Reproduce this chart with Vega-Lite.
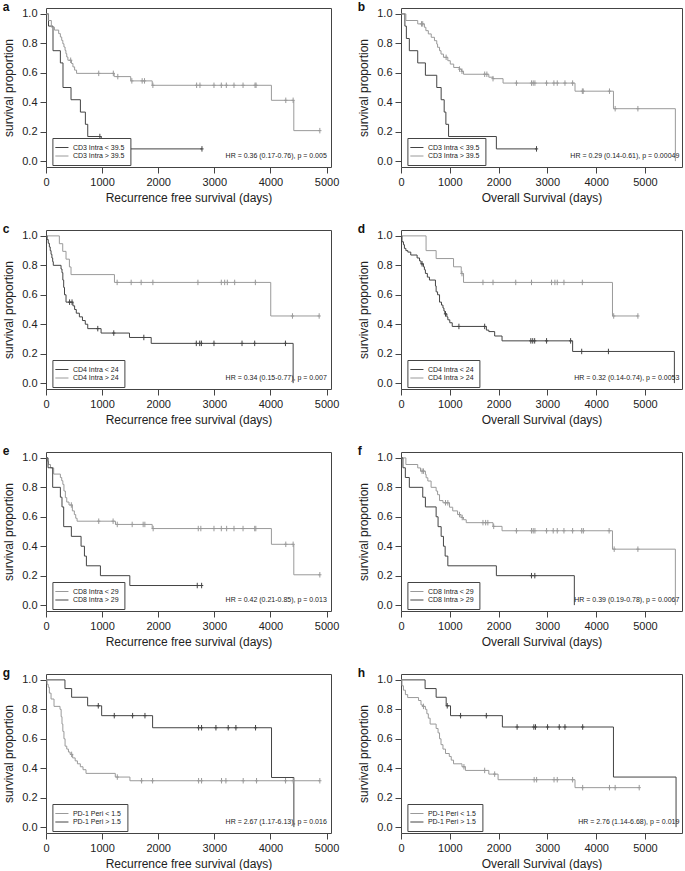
{
"$schema": "https://vega.github.io/schema/vega-lite/v6.json",
"padding": {"left": 2, "top": 0, "right": 2, "bottom": 0},
"bounds": "flush",
"columns": 2,
"spacing": {"row": 63, "column": 70},
"config": {
 "font": "Liberation Sans",
 "view": {"stroke": "#444", "strokeWidth": 1},
 "axis": {"domain": false, "grid": false, "ticks": true, "tickSize": 6, "tickColor": "#444", "labelFont": "Liberation Sans", "labelFontSize": 11, "labelColor": "#222", "labelPadding": 3, "titleFont": "Liberation Sans", "titleFontSize": 12, "titleFontWeight": "normal", "titleColor": "#222", "labelFlush": false, "labelOverlap": false},
 "axisX": {"titlePadding": 5},
 "axisY": {"titlePadding": 6},
 "title": {"anchor": "start", "frame": "bounds", "fontSize": 12, "fontWeight": "bold", "color": "#111", "offset": -6.6, "baseline": "top", "font": "Liberation Sans"},
 "legend": {"title": null, "orient": "none", "symbolType": "M-2,0H2", "symbolSize": 43, "symbolStrokeWidth": 1, "labelFontSize": 7, "labelFont": "Liberation Sans", "labelColor": "#222", "strokeColor": "#444", "fillColor": "white", "padding": 5.5, "rowPadding": 1.5, "labelOffset": 7}
},
"resolve": {"scale": {"color": "independent", "x": "independent", "y": "independent"}, "legend": {"color": "independent"}},
"datasets": {
"hr": [
 {"p":"a","hr":"HR = 0.36 (0.17-0.76), p = 0.005"},
 {"p":"b","hr":"HR = 0.29 (0.14-0.61), p = 0.00049"},
 {"p":"c","hr":"HR = 0.34 (0.15-0.77), p = 0.007"},
 {"p":"d","hr":"HR = 0.32 (0.14-0.74), p = 0.0053"},
 {"p":"e","hr":"HR = 0.42 (0.21-0.85), p = 0.013"},
 {"p":"f","hr":"HR = 0.39 (0.19-0.78), p = 0.0067"},
 {"p":"g","hr":"HR = 2.67 (1.17-6.13), p = 0.016"},
 {"p":"h","hr":"HR = 2.76 (1.14-6.68), p = 0.019"}
],
"km": [
{"p":"a","g":"CD3 Intra < 39.5","t":0,"s":1,"c":0},
{"p":"a","g":"CD3 Intra < 39.5","t":45,"s":0.917,"c":0},
{"p":"a","g":"CD3 Intra < 39.5","t":125,"s":0.75,"c":0},
{"p":"a","g":"CD3 Intra < 39.5","t":256,"s":0.667,"c":0},
{"p":"a","g":"CD3 Intra < 39.5","t":303,"s":0.5,"c":0},
{"p":"a","g":"CD3 Intra < 39.5","t":446,"s":0.417,"c":0},
{"p":"a","g":"CD3 Intra < 39.5","t":613,"s":0.333,"c":0},
{"p":"a","g":"CD3 Intra < 39.5","t":702,"s":0.25,"c":0},
{"p":"a","g":"CD3 Intra < 39.5","t":744,"s":0.167,"c":0},
{"p":"a","g":"CD3 Intra < 39.5","t":960,"s":0.167,"c":1},
{"p":"a","g":"CD3 Intra < 39.5","t":985,"s":0.083,"c":0},
{"p":"a","g":"CD3 Intra < 39.5","t":2780,"s":0.083,"c":1},
{"p":"a","g":"CD3 Intra > 39.5","t":0,"s":1,"c":0},
{"p":"a","g":"CD3 Intra > 39.5","t":40,"s":0.955,"c":0},
{"p":"a","g":"CD3 Intra > 39.5","t":95,"s":0.91,"c":0},
{"p":"a","g":"CD3 Intra > 39.5","t":150,"s":0.89,"c":0},
{"p":"a","g":"CD3 Intra > 39.5","t":226,"s":0.866,"c":0},
{"p":"a","g":"CD3 Intra > 39.5","t":256,"s":0.843,"c":0},
{"p":"a","g":"CD3 Intra > 39.5","t":280,"s":0.82,"c":0},
{"p":"a","g":"CD3 Intra > 39.5","t":300,"s":0.797,"c":0},
{"p":"a","g":"CD3 Intra > 39.5","t":320,"s":0.775,"c":0},
{"p":"a","g":"CD3 Intra > 39.5","t":340,"s":0.752,"c":0},
{"p":"a","g":"CD3 Intra > 39.5","t":355,"s":0.73,"c":0},
{"p":"a","g":"CD3 Intra > 39.5","t":370,"s":0.707,"c":0},
{"p":"a","g":"CD3 Intra > 39.5","t":390,"s":0.685,"c":0},
{"p":"a","g":"CD3 Intra > 39.5","t":440,"s":0.685,"c":1},
{"p":"a","g":"CD3 Intra > 39.5","t":455,"s":0.663,"c":0},
{"p":"a","g":"CD3 Intra > 39.5","t":480,"s":0.64,"c":0},
{"p":"a","g":"CD3 Intra > 39.5","t":510,"s":0.618,"c":0},
{"p":"a","g":"CD3 Intra > 39.5","t":545,"s":0.596,"c":0},
{"p":"a","g":"CD3 Intra > 39.5","t":940,"s":0.596,"c":1},
{"p":"a","g":"CD3 Intra > 39.5","t":1200,"s":0.596,"c":1},
{"p":"a","g":"CD3 Intra > 39.5","t":1215,"s":0.574,"c":0},
{"p":"a","g":"CD3 Intra > 39.5","t":1280,"s":0.574,"c":1},
{"p":"a","g":"CD3 Intra > 39.5","t":1510,"s":0.545,"c":0},
{"p":"a","g":"CD3 Intra > 39.5","t":1530,"s":0.545,"c":1},
{"p":"a","g":"CD3 Intra > 39.5","t":1714,"s":0.545,"c":1},
{"p":"a","g":"CD3 Intra > 39.5","t":1756,"s":0.545,"c":1},
{"p":"a","g":"CD3 Intra > 39.5","t":1893,"s":0.515,"c":0},
{"p":"a","g":"CD3 Intra > 39.5","t":1905,"s":0.515,"c":1},
{"p":"a","g":"CD3 Intra > 39.5","t":2685,"s":0.515,"c":1},
{"p":"a","g":"CD3 Intra > 39.5","t":2744,"s":0.515,"c":1},
{"p":"a","g":"CD3 Intra > 39.5","t":2994,"s":0.515,"c":1},
{"p":"a","g":"CD3 Intra > 39.5","t":3125,"s":0.515,"c":1},
{"p":"a","g":"CD3 Intra > 39.5","t":3214,"s":0.515,"c":1},
{"p":"a","g":"CD3 Intra > 39.5","t":3351,"s":0.515,"c":1},
{"p":"a","g":"CD3 Intra > 39.5","t":3512,"s":0.515,"c":1},
{"p":"a","g":"CD3 Intra > 39.5","t":3726,"s":0.515,"c":1},
{"p":"a","g":"CD3 Intra > 39.5","t":3744,"s":0.515,"c":1},
{"p":"a","g":"CD3 Intra > 39.5","t":4018,"s":0.413,"c":0},
{"p":"a","g":"CD3 Intra > 39.5","t":4274,"s":0.413,"c":1},
{"p":"a","g":"CD3 Intra > 39.5","t":4405,"s":0.413,"c":1},
{"p":"a","g":"CD3 Intra > 39.5","t":4417,"s":0.207,"c":0},
{"p":"a","g":"CD3 Intra > 39.5","t":4881,"s":0.207,"c":1},

{"p":"b","g":"CD3 Intra < 39.5","t":0,"s":1,"c":0},
{"p":"b","g":"CD3 Intra < 39.5","t":80,"s":0.917,"c":0},
{"p":"b","g":"CD3 Intra < 39.5","t":110,"s":0.833,"c":0},
{"p":"b","g":"CD3 Intra < 39.5","t":171,"s":0.75,"c":0},
{"p":"b","g":"CD3 Intra < 39.5","t":343,"s":0.667,"c":0},
{"p":"b","g":"CD3 Intra < 39.5","t":500,"s":0.583,"c":0},
{"p":"b","g":"CD3 Intra < 39.5","t":733,"s":0.5,"c":0},
{"p":"b","g":"CD3 Intra < 39.5","t":823,"s":0.417,"c":0},
{"p":"b","g":"CD3 Intra < 39.5","t":885,"s":0.333,"c":0},
{"p":"b","g":"CD3 Intra < 39.5","t":920,"s":0.25,"c":0},
{"p":"b","g":"CD3 Intra < 39.5","t":975,"s":0.167,"c":0},
{"p":"b","g":"CD3 Intra < 39.5","t":1955,"s":0.083,"c":0},
{"p":"b","g":"CD3 Intra < 39.5","t":2778,"s":0.083,"c":1},
{"p":"b","g":"CD3 Intra > 39.5","t":0,"s":1,"c":0},
{"p":"b","g":"CD3 Intra > 39.5","t":100,"s":0.955,"c":0},
{"p":"b","g":"CD3 Intra > 39.5","t":343,"s":0.932,"c":0},
{"p":"b","g":"CD3 Intra > 39.5","t":420,"s":0.932,"c":1},
{"p":"b","g":"CD3 Intra > 39.5","t":445,"s":0.932,"c":1},
{"p":"b","g":"CD3 Intra > 39.5","t":480,"s":0.909,"c":0},
{"p":"b","g":"CD3 Intra > 39.5","t":510,"s":0.886,"c":0},
{"p":"b","g":"CD3 Intra > 39.5","t":560,"s":0.864,"c":0},
{"p":"b","g":"CD3 Intra > 39.5","t":620,"s":0.841,"c":0},
{"p":"b","g":"CD3 Intra > 39.5","t":686,"s":0.818,"c":0},
{"p":"b","g":"CD3 Intra > 39.5","t":733,"s":0.795,"c":0},
{"p":"b","g":"CD3 Intra > 39.5","t":750,"s":0.773,"c":0},
{"p":"b","g":"CD3 Intra > 39.5","t":790,"s":0.75,"c":0},
{"p":"b","g":"CD3 Intra > 39.5","t":820,"s":0.727,"c":0},
{"p":"b","g":"CD3 Intra > 39.5","t":870,"s":0.705,"c":0},
{"p":"b","g":"CD3 Intra > 39.5","t":925,"s":0.705,"c":1},
{"p":"b","g":"CD3 Intra > 39.5","t":960,"s":0.682,"c":0},
{"p":"b","g":"CD3 Intra > 39.5","t":1010,"s":0.659,"c":0},
{"p":"b","g":"CD3 Intra > 39.5","t":1080,"s":0.636,"c":0},
{"p":"b","g":"CD3 Intra > 39.5","t":1200,"s":0.625,"c":1},
{"p":"b","g":"CD3 Intra > 39.5","t":1240,"s":0.61,"c":0},
{"p":"b","g":"CD3 Intra > 39.5","t":1250,"s":0.61,"c":1},
{"p":"b","g":"CD3 Intra > 39.5","t":1282,"s":0.59,"c":0},
{"p":"b","g":"CD3 Intra > 39.5","t":1715,"s":0.59,"c":1},
{"p":"b","g":"CD3 Intra > 39.5","t":1760,"s":0.59,"c":1},
{"p":"b","g":"CD3 Intra > 39.5","t":1800,"s":0.57,"c":0},
{"p":"b","g":"CD3 Intra > 39.5","t":1886,"s":0.56,"c":1},
{"p":"b","g":"CD3 Intra > 39.5","t":2092,"s":0.53,"c":0},
{"p":"b","g":"CD3 Intra > 39.5","t":2366,"s":0.53,"c":1},
{"p":"b","g":"CD3 Intra > 39.5","t":2675,"s":0.53,"c":1},
{"p":"b","g":"CD3 Intra > 39.5","t":2710,"s":0.53,"c":1},
{"p":"b","g":"CD3 Intra > 39.5","t":2745,"s":0.53,"c":1},
{"p":"b","g":"CD3 Intra > 39.5","t":2984,"s":0.53,"c":1},
{"p":"b","g":"CD3 Intra > 39.5","t":3134,"s":0.53,"c":1},
{"p":"b","g":"CD3 Intra > 39.5","t":3203,"s":0.53,"c":1},
{"p":"b","g":"CD3 Intra > 39.5","t":3361,"s":0.53,"c":1},
{"p":"b","g":"CD3 Intra > 39.5","t":3518,"s":0.53,"c":1},
{"p":"b","g":"CD3 Intra > 39.5","t":3567,"s":0.475,"c":0},
{"p":"b","g":"CD3 Intra > 39.5","t":3717,"s":0.475,"c":1},
{"p":"b","g":"CD3 Intra > 39.5","t":3735,"s":0.475,"c":1},
{"p":"b","g":"CD3 Intra > 39.5","t":4273,"s":0.475,"c":1},
{"p":"b","g":"CD3 Intra > 39.5","t":4355,"s":0.356,"c":0},
{"p":"b","g":"CD3 Intra > 39.5","t":4390,"s":0.356,"c":1},
{"p":"b","g":"CD3 Intra > 39.5","t":4856,"s":0.356,"c":1},
{"p":"b","g":"CD3 Intra > 39.5","t":5624,"s":0,"c":0},

{"p":"c","g":"CD4 Intra > 24","t":0,"s":1,"c":0},
{"p":"c","g":"CD4 Intra > 24","t":238,"s":0.947,"c":0},
{"p":"c","g":"CD4 Intra > 24","t":298,"s":0.895,"c":0},
{"p":"c","g":"CD4 Intra > 24","t":357,"s":0.842,"c":0},
{"p":"c","g":"CD4 Intra > 24","t":417,"s":0.789,"c":0},
{"p":"c","g":"CD4 Intra > 24","t":446,"s":0.737,"c":0},
{"p":"c","g":"CD4 Intra > 24","t":1220,"s":0.684,"c":0},
{"p":"c","g":"CD4 Intra > 24","t":1268,"s":0.684,"c":1},
{"p":"c","g":"CD4 Intra > 24","t":1518,"s":0.684,"c":1},
{"p":"c","g":"CD4 Intra > 24","t":1696,"s":0.684,"c":1},
{"p":"c","g":"CD4 Intra > 24","t":1905,"s":0.684,"c":1},
{"p":"c","g":"CD4 Intra > 24","t":2708,"s":0.684,"c":1},
{"p":"c","g":"CD4 Intra > 24","t":3125,"s":0.684,"c":1},
{"p":"c","g":"CD4 Intra > 24","t":3185,"s":0.684,"c":1},
{"p":"c","g":"CD4 Intra > 24","t":3232,"s":0.684,"c":1},
{"p":"c","g":"CD4 Intra > 24","t":3363,"s":0.684,"c":1},
{"p":"c","g":"CD4 Intra > 24","t":3732,"s":0.684,"c":1},
{"p":"c","g":"CD4 Intra > 24","t":4006,"s":0.456,"c":0},
{"p":"c","g":"CD4 Intra > 24","t":4393,"s":0.456,"c":1},
{"p":"c","g":"CD4 Intra > 24","t":4869,"s":0.456,"c":1},
{"p":"c","g":"CD4 Intra < 24","t":0,"s":1,"c":0},
{"p":"c","g":"CD4 Intra < 24","t":20,"s":0.975,"c":0},
{"p":"c","g":"CD4 Intra < 24","t":40,"s":0.95,"c":0},
{"p":"c","g":"CD4 Intra < 24","t":60,"s":0.925,"c":0},
{"p":"c","g":"CD4 Intra < 24","t":75,"s":0.9,"c":0},
{"p":"c","g":"CD4 Intra < 24","t":90,"s":0.875,"c":0},
{"p":"c","g":"CD4 Intra < 24","t":105,"s":0.85,"c":0},
{"p":"c","g":"CD4 Intra < 24","t":119,"s":0.825,"c":0},
{"p":"c","g":"CD4 Intra < 24","t":130,"s":0.8,"c":0},
{"p":"c","g":"CD4 Intra < 24","t":268,"s":0.775,"c":0},
{"p":"c","g":"CD4 Intra < 24","t":285,"s":0.75,"c":0},
{"p":"c","g":"CD4 Intra < 24","t":300,"s":0.7,"c":0},
{"p":"c","g":"CD4 Intra < 24","t":315,"s":0.65,"c":0},
{"p":"c","g":"CD4 Intra < 24","t":330,"s":0.6,"c":0},
{"p":"c","g":"CD4 Intra < 24","t":357,"s":0.55,"c":0},
{"p":"c","g":"CD4 Intra < 24","t":420,"s":0.55,"c":1},
{"p":"c","g":"CD4 Intra < 24","t":464,"s":0.55,"c":1},
{"p":"c","g":"CD4 Intra < 24","t":480,"s":0.525,"c":0},
{"p":"c","g":"CD4 Intra < 24","t":510,"s":0.5,"c":0},
{"p":"c","g":"CD4 Intra < 24","t":540,"s":0.475,"c":0},
{"p":"c","g":"CD4 Intra < 24","t":595,"s":0.45,"c":0},
{"p":"c","g":"CD4 Intra < 24","t":650,"s":0.425,"c":0},
{"p":"c","g":"CD4 Intra < 24","t":700,"s":0.4,"c":0},
{"p":"c","g":"CD4 Intra < 24","t":744,"s":0.37,"c":0},
{"p":"c","g":"CD4 Intra < 24","t":923,"s":0.37,"c":1},
{"p":"c","g":"CD4 Intra < 24","t":982,"s":0.34,"c":0},
{"p":"c","g":"CD4 Intra < 24","t":1208,"s":0.34,"c":1},
{"p":"c","g":"CD4 Intra < 24","t":1488,"s":0.31,"c":0},
{"p":"c","g":"CD4 Intra < 24","t":1744,"s":0.31,"c":1},
{"p":"c","g":"CD4 Intra < 24","t":1875,"s":0.27,"c":0},
{"p":"c","g":"CD4 Intra < 24","t":2679,"s":0.27,"c":1},
{"p":"c","g":"CD4 Intra < 24","t":2740,"s":0.27,"c":1},
{"p":"c","g":"CD4 Intra < 24","t":2770,"s":0.27,"c":1},
{"p":"c","g":"CD4 Intra < 24","t":2994,"s":0.27,"c":1},
{"p":"c","g":"CD4 Intra < 24","t":3494,"s":0.27,"c":1},
{"p":"c","g":"CD4 Intra < 24","t":3720,"s":0.27,"c":1},
{"p":"c","g":"CD4 Intra < 24","t":4268,"s":0.27,"c":1},
{"p":"c","g":"CD4 Intra < 24","t":4405,"s":0,"c":0},

{"p":"d","g":"CD4 Intra > 24","t":0,"s":1,"c":0},
{"p":"d","g":"CD4 Intra > 24","t":514,"s":0.9,"c":0},
{"p":"d","g":"CD4 Intra > 24","t":720,"s":0.846,"c":0},
{"p":"d","g":"CD4 Intra > 24","t":1077,"s":0.79,"c":0},
{"p":"d","g":"CD4 Intra > 24","t":1235,"s":0.744,"c":0},
{"p":"d","g":"CD4 Intra > 24","t":1250,"s":0.744,"c":1},
{"p":"d","g":"CD4 Intra > 24","t":1282,"s":0.684,"c":0},
{"p":"d","g":"CD4 Intra > 24","t":1680,"s":0.684,"c":1},
{"p":"d","g":"CD4 Intra > 24","t":1886,"s":0.684,"c":1},
{"p":"d","g":"CD4 Intra > 24","t":2352,"s":0.684,"c":1},
{"p":"d","g":"CD4 Intra > 24","t":2675,"s":0.684,"c":1},
{"p":"d","g":"CD4 Intra > 24","t":3086,"s":0.684,"c":1},
{"p":"d","g":"CD4 Intra > 24","t":3155,"s":0.684,"c":1},
{"p":"d","g":"CD4 Intra > 24","t":3203,"s":0.684,"c":1},
{"p":"d","g":"CD4 Intra > 24","t":3340,"s":0.684,"c":1},
{"p":"d","g":"CD4 Intra > 24","t":3717,"s":0.684,"c":1},
{"p":"d","g":"CD4 Intra > 24","t":4335,"s":0.456,"c":0},
{"p":"d","g":"CD4 Intra > 24","t":4360,"s":0.456,"c":1},
{"p":"d","g":"CD4 Intra > 24","t":4856,"s":0.456,"c":1},
{"p":"d","g":"CD4 Intra < 24","t":0,"s":1,"c":0},
{"p":"d","g":"CD4 Intra < 24","t":20,"s":0.96,"c":0},
{"p":"d","g":"CD4 Intra < 24","t":50,"s":0.94,"c":0},
{"p":"d","g":"CD4 Intra < 24","t":70,"s":0.915,"c":0},
{"p":"d","g":"CD4 Intra < 24","t":100,"s":0.9,"c":0},
{"p":"d","g":"CD4 Intra < 24","t":140,"s":0.89,"c":0},
{"p":"d","g":"CD4 Intra < 24","t":200,"s":0.87,"c":0},
{"p":"d","g":"CD4 Intra < 24","t":330,"s":0.85,"c":0},
{"p":"d","g":"CD4 Intra < 24","t":380,"s":0.83,"c":0},
{"p":"d","g":"CD4 Intra < 24","t":410,"s":0.81,"c":0},
{"p":"d","g":"CD4 Intra < 24","t":432,"s":0.81,"c":1},
{"p":"d","g":"CD4 Intra < 24","t":460,"s":0.79,"c":0},
{"p":"d","g":"CD4 Intra < 24","t":480,"s":0.77,"c":0},
{"p":"d","g":"CD4 Intra < 24","t":500,"s":0.745,"c":0},
{"p":"d","g":"CD4 Intra < 24","t":540,"s":0.72,"c":0},
{"p":"d","g":"CD4 Intra < 24","t":583,"s":0.7,"c":0},
{"p":"d","g":"CD4 Intra < 24","t":706,"s":0.66,"c":0},
{"p":"d","g":"CD4 Intra < 24","t":720,"s":0.62,"c":0},
{"p":"d","g":"CD4 Intra < 24","t":750,"s":0.6,"c":0},
{"p":"d","g":"CD4 Intra < 24","t":790,"s":0.55,"c":0},
{"p":"d","g":"CD4 Intra < 24","t":830,"s":0.53,"c":0},
{"p":"d","g":"CD4 Intra < 24","t":860,"s":0.51,"c":0},
{"p":"d","g":"CD4 Intra < 24","t":880,"s":0.49,"c":0},
{"p":"d","g":"CD4 Intra < 24","t":900,"s":0.47,"c":0},
{"p":"d","g":"CD4 Intra < 24","t":912,"s":0.47,"c":1},
{"p":"d","g":"CD4 Intra < 24","t":940,"s":0.45,"c":0},
{"p":"d","g":"CD4 Intra < 24","t":960,"s":0.43,"c":0},
{"p":"d","g":"CD4 Intra < 24","t":1000,"s":0.41,"c":0},
{"p":"d","g":"CD4 Intra < 24","t":1050,"s":0.385,"c":0},
{"p":"d","g":"CD4 Intra < 24","t":1187,"s":0.385,"c":1},
{"p":"d","g":"CD4 Intra < 24","t":1715,"s":0.385,"c":1},
{"p":"d","g":"CD4 Intra < 24","t":1750,"s":0.36,"c":0},
{"p":"d","g":"CD4 Intra < 24","t":1800,"s":0.35,"c":0},
{"p":"d","g":"CD4 Intra < 24","t":1920,"s":0.32,"c":0},
{"p":"d","g":"CD4 Intra < 24","t":2071,"s":0.287,"c":0},
{"p":"d","g":"CD4 Intra < 24","t":2661,"s":0.287,"c":1},
{"p":"d","g":"CD4 Intra < 24","t":2700,"s":0.287,"c":1},
{"p":"d","g":"CD4 Intra < 24","t":2740,"s":0.287,"c":1},
{"p":"d","g":"CD4 Intra < 24","t":2984,"s":0.287,"c":1},
{"p":"d","g":"CD4 Intra < 24","t":3477,"s":0.287,"c":1},
{"p":"d","g":"CD4 Intra < 24","t":3518,"s":0.215,"c":0},
{"p":"d","g":"CD4 Intra < 24","t":3704,"s":0.215,"c":1},
{"p":"d","g":"CD4 Intra < 24","t":4252,"s":0.215,"c":1},
{"p":"d","g":"CD4 Intra < 24","t":5604,"s":0,"c":0},

{"p":"e","g":"CD8 Intra < 29","t":0,"s":1,"c":0},
{"p":"e","g":"CD8 Intra < 29","t":30,"s":0.977,"c":0},
{"p":"e","g":"CD8 Intra < 29","t":45,"s":0.955,"c":0},
{"p":"e","g":"CD8 Intra < 29","t":80,"s":0.932,"c":0},
{"p":"e","g":"CD8 Intra < 29","t":137,"s":0.89,"c":0},
{"p":"e","g":"CD8 Intra < 29","t":256,"s":0.867,"c":0},
{"p":"e","g":"CD8 Intra < 29","t":280,"s":0.845,"c":0},
{"p":"e","g":"CD8 Intra < 29","t":300,"s":0.82,"c":0},
{"p":"e","g":"CD8 Intra < 29","t":320,"s":0.775,"c":0},
{"p":"e","g":"CD8 Intra < 29","t":345,"s":0.73,"c":0},
{"p":"e","g":"CD8 Intra < 29","t":370,"s":0.7,"c":0},
{"p":"e","g":"CD8 Intra < 29","t":410,"s":0.68,"c":0},
{"p":"e","g":"CD8 Intra < 29","t":452,"s":0.68,"c":1},
{"p":"e","g":"CD8 Intra < 29","t":470,"s":0.64,"c":0},
{"p":"e","g":"CD8 Intra < 29","t":505,"s":0.615,"c":0},
{"p":"e","g":"CD8 Intra < 29","t":530,"s":0.59,"c":0},
{"p":"e","g":"CD8 Intra < 29","t":554,"s":0.57,"c":0},
{"p":"e","g":"CD8 Intra < 29","t":940,"s":0.57,"c":1},
{"p":"e","g":"CD8 Intra < 29","t":1196,"s":0.57,"c":1},
{"p":"e","g":"CD8 Intra < 29","t":1238,"s":0.548,"c":0},
{"p":"e","g":"CD8 Intra < 29","t":1270,"s":0.548,"c":1},
{"p":"e","g":"CD8 Intra < 29","t":1536,"s":0.548,"c":1},
{"p":"e","g":"CD8 Intra < 29","t":1732,"s":0.548,"c":1},
{"p":"e","g":"CD8 Intra < 29","t":1762,"s":0.548,"c":1},
{"p":"e","g":"CD8 Intra < 29","t":1893,"s":0.52,"c":0},
{"p":"e","g":"CD8 Intra < 29","t":1910,"s":0.52,"c":1},
{"p":"e","g":"CD8 Intra < 29","t":2714,"s":0.52,"c":1},
{"p":"e","g":"CD8 Intra < 29","t":2760,"s":0.52,"c":1},
{"p":"e","g":"CD8 Intra < 29","t":2994,"s":0.52,"c":1},
{"p":"e","g":"CD8 Intra < 29","t":3125,"s":0.52,"c":1},
{"p":"e","g":"CD8 Intra < 29","t":3220,"s":0.52,"c":1},
{"p":"e","g":"CD8 Intra < 29","t":3351,"s":0.52,"c":1},
{"p":"e","g":"CD8 Intra < 29","t":3512,"s":0.52,"c":1},
{"p":"e","g":"CD8 Intra < 29","t":3720,"s":0.52,"c":1},
{"p":"e","g":"CD8 Intra < 29","t":3740,"s":0.52,"c":1},
{"p":"e","g":"CD8 Intra < 29","t":4018,"s":0.413,"c":0},
{"p":"e","g":"CD8 Intra < 29","t":4274,"s":0.413,"c":1},
{"p":"e","g":"CD8 Intra < 29","t":4405,"s":0.413,"c":1},
{"p":"e","g":"CD8 Intra < 29","t":4417,"s":0.206,"c":0},
{"p":"e","g":"CD8 Intra < 29","t":4881,"s":0.206,"c":1},
{"p":"e","g":"CD8 Intra > 29","t":0,"s":1,"c":0},
{"p":"e","g":"CD8 Intra > 29","t":36,"s":0.933,"c":0},
{"p":"e","g":"CD8 Intra > 29","t":119,"s":0.8,"c":0},
{"p":"e","g":"CD8 Intra > 29","t":256,"s":0.733,"c":0},
{"p":"e","g":"CD8 Intra > 29","t":285,"s":0.667,"c":0},
{"p":"e","g":"CD8 Intra > 29","t":315,"s":0.533,"c":0},
{"p":"e","g":"CD8 Intra > 29","t":452,"s":0.467,"c":0},
{"p":"e","g":"CD8 Intra > 29","t":625,"s":0.4,"c":0},
{"p":"e","g":"CD8 Intra > 29","t":685,"s":0.333,"c":0},
{"p":"e","g":"CD8 Intra > 29","t":720,"s":0.267,"c":0},
{"p":"e","g":"CD8 Intra > 29","t":970,"s":0.2,"c":0},
{"p":"e","g":"CD8 Intra > 29","t":1494,"s":0.133,"c":0},
{"p":"e","g":"CD8 Intra > 29","t":2696,"s":0.133,"c":1},
{"p":"e","g":"CD8 Intra > 29","t":2774,"s":0.133,"c":1},

{"p":"f","g":"CD8 Intra < 29","t":0,"s":1,"c":0},
{"p":"f","g":"CD8 Intra < 29","t":100,"s":0.955,"c":0},
{"p":"f","g":"CD8 Intra < 29","t":343,"s":0.932,"c":0},
{"p":"f","g":"CD8 Intra < 29","t":400,"s":0.91,"c":0},
{"p":"f","g":"CD8 Intra < 29","t":432,"s":0.91,"c":1},
{"p":"f","g":"CD8 Intra < 29","t":460,"s":0.91,"c":1},
{"p":"f","g":"CD8 Intra < 29","t":500,"s":0.888,"c":0},
{"p":"f","g":"CD8 Intra < 29","t":515,"s":0.865,"c":0},
{"p":"f","g":"CD8 Intra < 29","t":550,"s":0.843,"c":0},
{"p":"f","g":"CD8 Intra < 29","t":617,"s":0.8,"c":0},
{"p":"f","g":"CD8 Intra < 29","t":720,"s":0.775,"c":0},
{"p":"f","g":"CD8 Intra < 29","t":750,"s":0.75,"c":0},
{"p":"f","g":"CD8 Intra < 29","t":790,"s":0.71,"c":0},
{"p":"f","g":"CD8 Intra < 29","t":860,"s":0.695,"c":0},
{"p":"f","g":"CD8 Intra < 29","t":912,"s":0.695,"c":1},
{"p":"f","g":"CD8 Intra < 29","t":960,"s":0.695,"c":1},
{"p":"f","g":"CD8 Intra < 29","t":995,"s":0.665,"c":0},
{"p":"f","g":"CD8 Intra < 29","t":1060,"s":0.64,"c":0},
{"p":"f","g":"CD8 Intra < 29","t":1160,"s":0.615,"c":0},
{"p":"f","g":"CD8 Intra < 29","t":1200,"s":0.615,"c":1},
{"p":"f","g":"CD8 Intra < 29","t":1230,"s":0.595,"c":0},
{"p":"f","g":"CD8 Intra < 29","t":1255,"s":0.595,"c":1},
{"p":"f","g":"CD8 Intra < 29","t":1280,"s":0.58,"c":0},
{"p":"f","g":"CD8 Intra < 29","t":1337,"s":0.56,"c":0},
{"p":"f","g":"CD8 Intra < 29","t":1680,"s":0.56,"c":1},
{"p":"f","g":"CD8 Intra < 29","t":1735,"s":0.56,"c":1},
{"p":"f","g":"CD8 Intra < 29","t":1780,"s":0.56,"c":1},
{"p":"f","g":"CD8 Intra < 29","t":1886,"s":0.535,"c":0},
{"p":"f","g":"CD8 Intra < 29","t":1900,"s":0.535,"c":1},
{"p":"f","g":"CD8 Intra < 29","t":2071,"s":0.505,"c":0},
{"p":"f","g":"CD8 Intra < 29","t":2366,"s":0.505,"c":1},
{"p":"f","g":"CD8 Intra < 29","t":2675,"s":0.505,"c":1},
{"p":"f","g":"CD8 Intra < 29","t":2710,"s":0.505,"c":1},
{"p":"f","g":"CD8 Intra < 29","t":2745,"s":0.505,"c":1},
{"p":"f","g":"CD8 Intra < 29","t":2984,"s":0.505,"c":1},
{"p":"f","g":"CD8 Intra < 29","t":3120,"s":0.505,"c":1},
{"p":"f","g":"CD8 Intra < 29","t":3203,"s":0.505,"c":1},
{"p":"f","g":"CD8 Intra < 29","t":3340,"s":0.505,"c":1},
{"p":"f","g":"CD8 Intra < 29","t":3518,"s":0.505,"c":1},
{"p":"f","g":"CD8 Intra < 29","t":3704,"s":0.505,"c":1},
{"p":"f","g":"CD8 Intra < 29","t":3738,"s":0.505,"c":1},
{"p":"f","g":"CD8 Intra < 29","t":4266,"s":0.505,"c":1},
{"p":"f","g":"CD8 Intra < 29","t":4335,"s":0.38,"c":0},
{"p":"f","g":"CD8 Intra < 29","t":4370,"s":0.38,"c":1},
{"p":"f","g":"CD8 Intra < 29","t":4856,"s":0.38,"c":1},
{"p":"f","g":"CD8 Intra < 29","t":5624,"s":0,"c":0},
{"p":"f","g":"CD8 Intra > 29","t":0,"s":1,"c":0},
{"p":"f","g":"CD8 Intra > 29","t":40,"s":0.933,"c":0},
{"p":"f","g":"CD8 Intra > 29","t":89,"s":0.867,"c":0},
{"p":"f","g":"CD8 Intra > 29","t":171,"s":0.8,"c":0},
{"p":"f","g":"CD8 Intra > 29","t":446,"s":0.733,"c":0},
{"p":"f","g":"CD8 Intra > 29","t":500,"s":0.667,"c":0},
{"p":"f","g":"CD8 Intra > 29","t":720,"s":0.6,"c":0},
{"p":"f","g":"CD8 Intra > 29","t":760,"s":0.533,"c":0},
{"p":"f","g":"CD8 Intra > 29","t":823,"s":0.467,"c":0},
{"p":"f","g":"CD8 Intra > 29","t":870,"s":0.4,"c":0},
{"p":"f","g":"CD8 Intra > 29","t":905,"s":0.333,"c":0},
{"p":"f","g":"CD8 Intra > 29","t":960,"s":0.267,"c":0},
{"p":"f","g":"CD8 Intra > 29","t":1955,"s":0.2,"c":0},
{"p":"f","g":"CD8 Intra > 29","t":2675,"s":0.2,"c":1},
{"p":"f","g":"CD8 Intra > 29","t":2743,"s":0.2,"c":1},
{"p":"f","g":"CD8 Intra > 29","t":3553,"s":0,"c":0},

{"p":"g","g":"PD-1 Peri > 1.5","t":0,"s":1,"c":0},
{"p":"g","g":"PD-1 Peri > 1.5","t":338,"s":0.941,"c":0},
{"p":"g","g":"PD-1 Peri > 1.5","t":457,"s":0.882,"c":0},
{"p":"g","g":"PD-1 Peri > 1.5","t":742,"s":0.824,"c":0},
{"p":"g","g":"PD-1 Peri > 1.5","t":932,"s":0.824,"c":1},
{"p":"g","g":"PD-1 Peri > 1.5","t":992,"s":0.757,"c":0},
{"p":"g","g":"PD-1 Peri > 1.5","t":1217,"s":0.757,"c":1},
{"p":"g","g":"PD-1 Peri > 1.5","t":1544,"s":0.757,"c":1},
{"p":"g","g":"PD-1 Peri > 1.5","t":1764,"s":0.757,"c":1},
{"p":"g","g":"PD-1 Peri > 1.5","t":1900,"s":0.675,"c":0},
{"p":"g","g":"PD-1 Peri > 1.5","t":2720,"s":0.675,"c":1},
{"p":"g","g":"PD-1 Peri > 1.5","t":2773,"s":0.675,"c":1},
{"p":"g","g":"PD-1 Peri > 1.5","t":3029,"s":0.675,"c":1},
{"p":"g","g":"PD-1 Peri > 1.5","t":3248,"s":0.675,"c":1},
{"p":"g","g":"PD-1 Peri > 1.5","t":3385,"s":0.675,"c":1},
{"p":"g","g":"PD-1 Peri > 1.5","t":3735,"s":0.675,"c":1},
{"p":"g","g":"PD-1 Peri > 1.5","t":4020,"s":0.337,"c":0},
{"p":"g","g":"PD-1 Peri > 1.5","t":4418,"s":0,"c":0},
{"p":"g","g":"PD-1 Peri < 1.5","t":0,"s":1,"c":0},
{"p":"g","g":"PD-1 Peri < 1.5","t":20,"s":0.97,"c":0},
{"p":"g","g":"PD-1 Peri < 1.5","t":40,"s":0.95,"c":0},
{"p":"g","g":"PD-1 Peri < 1.5","t":60,"s":0.91,"c":0},
{"p":"g","g":"PD-1 Peri < 1.5","t":90,"s":0.87,"c":0},
{"p":"g","g":"PD-1 Peri < 1.5","t":143,"s":0.82,"c":0},
{"p":"g","g":"PD-1 Peri < 1.5","t":250,"s":0.8,"c":0},
{"p":"g","g":"PD-1 Peri < 1.5","t":270,"s":0.75,"c":0},
{"p":"g","g":"PD-1 Peri < 1.5","t":285,"s":0.7,"c":0},
{"p":"g","g":"PD-1 Peri < 1.5","t":300,"s":0.65,"c":0},
{"p":"g","g":"PD-1 Peri < 1.5","t":320,"s":0.6,"c":0},
{"p":"g","g":"PD-1 Peri < 1.5","t":340,"s":0.55,"c":0},
{"p":"g","g":"PD-1 Peri < 1.5","t":370,"s":0.53,"c":0},
{"p":"g","g":"PD-1 Peri < 1.5","t":400,"s":0.51,"c":0},
{"p":"g","g":"PD-1 Peri < 1.5","t":430,"s":0.494,"c":0},
{"p":"g","g":"PD-1 Peri < 1.5","t":457,"s":0.494,"c":1},
{"p":"g","g":"PD-1 Peri < 1.5","t":475,"s":0.47,"c":0},
{"p":"g","g":"PD-1 Peri < 1.5","t":520,"s":0.45,"c":0},
{"p":"g","g":"PD-1 Peri < 1.5","t":560,"s":0.43,"c":0},
{"p":"g","g":"PD-1 Peri < 1.5","t":612,"s":0.41,"c":0},
{"p":"g","g":"PD-1 Peri < 1.5","t":660,"s":0.39,"c":0},
{"p":"g","g":"PD-1 Peri < 1.5","t":713,"s":0.365,"c":0},
{"p":"g","g":"PD-1 Peri < 1.5","t":1235,"s":0.34,"c":0},
{"p":"g","g":"PD-1 Peri < 1.5","t":1271,"s":0.34,"c":1},
{"p":"g","g":"PD-1 Peri < 1.5","t":1496,"s":0.315,"c":0},
{"p":"g","g":"PD-1 Peri < 1.5","t":1704,"s":0.315,"c":1},
{"p":"g","g":"PD-1 Peri < 1.5","t":1900,"s":0.315,"c":1},
{"p":"g","g":"PD-1 Peri < 1.5","t":2720,"s":0.315,"c":1},
{"p":"g","g":"PD-1 Peri < 1.5","t":2773,"s":0.315,"c":1},
{"p":"g","g":"PD-1 Peri < 1.5","t":3129,"s":0.315,"c":1},
{"p":"g","g":"PD-1 Peri < 1.5","t":3207,"s":0.315,"c":1},
{"p":"g","g":"PD-1 Peri < 1.5","t":3515,"s":0.315,"c":1},
{"p":"g","g":"PD-1 Peri < 1.5","t":3753,"s":0.315,"c":1},
{"p":"g","g":"PD-1 Peri < 1.5","t":4270,"s":0.315,"c":1},
{"p":"g","g":"PD-1 Peri < 1.5","t":4406,"s":0.315,"c":1},
{"p":"g","g":"PD-1 Peri < 1.5","t":4881,"s":0.315,"c":1},

{"p":"h","g":"PD-1 Peri > 1.5","t":0,"s":1,"c":0},
{"p":"h","g":"PD-1 Peri > 1.5","t":494,"s":0.941,"c":0},
{"p":"h","g":"PD-1 Peri > 1.5","t":720,"s":0.882,"c":0},
{"p":"h","g":"PD-1 Peri > 1.5","t":926,"s":0.824,"c":0},
{"p":"h","g":"PD-1 Peri > 1.5","t":948,"s":0.824,"c":1},
{"p":"h","g":"PD-1 Peri > 1.5","t":1015,"s":0.757,"c":0},
{"p":"h","g":"PD-1 Peri > 1.5","t":1221,"s":0.757,"c":1},
{"p":"h","g":"PD-1 Peri > 1.5","t":1749,"s":0.757,"c":1},
{"p":"h","g":"PD-1 Peri > 1.5","t":2078,"s":0.68,"c":0},
{"p":"h","g":"PD-1 Peri > 1.5","t":2380,"s":0.68,"c":1},
{"p":"h","g":"PD-1 Peri > 1.5","t":2723,"s":0.68,"c":1},
{"p":"h","g":"PD-1 Peri > 1.5","t":2757,"s":0.68,"c":1},
{"p":"h","g":"PD-1 Peri > 1.5","t":3004,"s":0.68,"c":1},
{"p":"h","g":"PD-1 Peri > 1.5","t":3244,"s":0.68,"c":1},
{"p":"h","g":"PD-1 Peri > 1.5","t":3361,"s":0.68,"c":1},
{"p":"h","g":"PD-1 Peri > 1.5","t":3724,"s":0.68,"c":1},
{"p":"h","g":"PD-1 Peri > 1.5","t":4355,"s":0.34,"c":0},
{"p":"h","g":"PD-1 Peri > 1.5","t":5638,"s":0,"c":0},
{"p":"h","g":"PD-1 Peri < 1.5","t":0,"s":1,"c":0},
{"p":"h","g":"PD-1 Peri < 1.5","t":20,"s":0.96,"c":0},
{"p":"h","g":"PD-1 Peri < 1.5","t":50,"s":0.93,"c":0},
{"p":"h","g":"PD-1 Peri < 1.5","t":90,"s":0.9,"c":0},
{"p":"h","g":"PD-1 Peri < 1.5","t":137,"s":0.88,"c":0},
{"p":"h","g":"PD-1 Peri < 1.5","t":360,"s":0.86,"c":0},
{"p":"h","g":"PD-1 Peri < 1.5","t":410,"s":0.83,"c":0},
{"p":"h","g":"PD-1 Peri < 1.5","t":440,"s":0.82,"c":0},
{"p":"h","g":"PD-1 Peri < 1.5","t":460,"s":0.82,"c":1},
{"p":"h","g":"PD-1 Peri < 1.5","t":500,"s":0.8,"c":0},
{"p":"h","g":"PD-1 Peri < 1.5","t":530,"s":0.77,"c":0},
{"p":"h","g":"PD-1 Peri < 1.5","t":560,"s":0.74,"c":0},
{"p":"h","g":"PD-1 Peri < 1.5","t":597,"s":0.7,"c":0},
{"p":"h","g":"PD-1 Peri < 1.5","t":720,"s":0.67,"c":0},
{"p":"h","g":"PD-1 Peri < 1.5","t":760,"s":0.64,"c":0},
{"p":"h","g":"PD-1 Peri < 1.5","t":790,"s":0.6,"c":0},
{"p":"h","g":"PD-1 Peri < 1.5","t":820,"s":0.56,"c":0},
{"p":"h","g":"PD-1 Peri < 1.5","t":860,"s":0.53,"c":0},
{"p":"h","g":"PD-1 Peri < 1.5","t":912,"s":0.5,"c":0},
{"p":"h","g":"PD-1 Peri < 1.5","t":990,"s":0.48,"c":0},
{"p":"h","g":"PD-1 Peri < 1.5","t":1030,"s":0.455,"c":0},
{"p":"h","g":"PD-1 Peri < 1.5","t":1077,"s":0.43,"c":0},
{"p":"h","g":"PD-1 Peri < 1.5","t":1250,"s":0.41,"c":0},
{"p":"h","g":"PD-1 Peri < 1.5","t":1290,"s":0.41,"c":1},
{"p":"h","g":"PD-1 Peri < 1.5","t":1320,"s":0.385,"c":0},
{"p":"h","g":"PD-1 Peri < 1.5","t":1715,"s":0.385,"c":1},
{"p":"h","g":"PD-1 Peri < 1.5","t":1800,"s":0.36,"c":0},
{"p":"h","g":"PD-1 Peri < 1.5","t":1920,"s":0.36,"c":1},
{"p":"h","g":"PD-1 Peri < 1.5","t":1990,"s":0.322,"c":0},
{"p":"h","g":"PD-1 Peri < 1.5","t":2730,"s":0.322,"c":1},
{"p":"h","g":"PD-1 Peri < 1.5","t":2780,"s":0.322,"c":1},
{"p":"h","g":"PD-1 Peri < 1.5","t":3137,"s":0.322,"c":1},
{"p":"h","g":"PD-1 Peri < 1.5","t":3203,"s":0.322,"c":1},
{"p":"h","g":"PD-1 Peri < 1.5","t":3518,"s":0.322,"c":1},
{"p":"h","g":"PD-1 Peri < 1.5","t":3567,"s":0.268,"c":0},
{"p":"h","g":"PD-1 Peri < 1.5","t":3724,"s":0.268,"c":1},
{"p":"h","g":"PD-1 Peri < 1.5","t":4273,"s":0.268,"c":1},
{"p":"h","g":"PD-1 Peri < 1.5","t":4390,"s":0.268,"c":1},
{"p":"h","g":"PD-1 Peri < 1.5","t":4883,"s":0.268,"c":1}
]
},
"concat": [
{"width": 285, "height": 159, "title": {"text": "a"},
 "layer": [
  {"data": {"name": "km"}, "transform": [{"filter": "datum.p == 'a'"}],
   "mark": {"type": "line", "interpolate": "step-after", "strokeWidth": 1},
   "encoding": {
    "x": {"field": "t", "type": "quantitative", "scale": {"domain": [0, 5080], "nice": false, "zero": false}, "axis": {"title": "Recurrence free survival (days)", "values": [0,1000,2000,3000,4000,5000], "tickCount": 20, "format": "d", "labelOverlap": false}},
    "y": {"field": "s", "type": "quantitative", "scale": {"domain": [-0.04, 1.04], "nice": false, "zero": false}, "axis": {"title": "survival proportion", "values": [0,0.2,0.4,0.6,0.8,1], "tickCount": 20, "format": ".1f", "labelOverlap": false}},
    "color": {"field": "g", "type": "nominal", "scale": {"domain": ["CD3 Intra < 39.5", "CD3 Intra > 39.5"], "range": ["#444444", "#9a9a9a"]}, "legend": {"legendX": 6.4, "legendY": 130}}}},
  {"data": {"name": "km"}, "transform": [{"filter": "datum.p == 'a' && datum.c == 1"}],
   "mark": {"type": "point", "shape": "M-0.6,0H0.6M0,-1V1", "filled": false, "size": 30, "strokeWidth": 1, "opacity": 1},
   "encoding": {"x": {"field": "t", "type": "quantitative"}, "y": {"field": "s", "type": "quantitative"}, "color": {"field": "g", "type": "nominal", "legend": null}}},
  {"data": {"name": "hr"}, "transform": [{"filter": "datum.p == 'a'"}],
   "mark": {"type": "text", "align": "right", "baseline": "alphabetic", "fontSize": 7, "font": "Liberation Sans", "color": "#222"},
   "encoding": {"x": {"datum": 5005}, "y": {"datum": 0.02}, "text": {"field": "hr"}}}
 ]},
{"width": 281, "height": 159, "title": {"text": "b"},
 "layer": [
  {"data": {"name": "km"}, "transform": [{"filter": "datum.p == 'b'"}],
   "mark": {"type": "line", "interpolate": "step-after", "strokeWidth": 1},
   "encoding": {
    "x": {"field": "t", "type": "quantitative", "scale": {"domain": [0, 5760], "nice": false, "zero": false}, "axis": {"title": "Overall Survival (days)", "values": [0,1000,2000,3000,4000,5000], "tickCount": 20, "format": "d", "labelOverlap": false}},
    "y": {"field": "s", "type": "quantitative", "scale": {"domain": [-0.04, 1.04], "nice": false, "zero": false}, "axis": {"title": "survival proportion", "values": [0,0.2,0.4,0.6,0.8,1], "tickCount": 20, "format": ".1f", "labelOverlap": false}},
    "color": {"field": "g", "type": "nominal", "scale": {"domain": ["CD3 Intra < 39.5", "CD3 Intra > 39.5"], "range": ["#444444", "#9a9a9a"]}, "legend": {"legendX": 6.4, "legendY": 130}}}},
  {"data": {"name": "km"}, "transform": [{"filter": "datum.p == 'b' && datum.c == 1"}],
   "mark": {"type": "point", "shape": "M-0.6,0H0.6M0,-1V1", "filled": false, "size": 30, "strokeWidth": 1, "opacity": 1},
   "encoding": {"x": {"field": "t", "type": "quantitative"}, "y": {"field": "s", "type": "quantitative"}, "color": {"field": "g", "type": "nominal", "legend": null}}},
  {"data": {"name": "hr"}, "transform": [{"filter": "datum.p == 'b'"}],
   "mark": {"type": "text", "align": "right", "baseline": "alphabetic", "fontSize": 7, "font": "Liberation Sans", "color": "#222"},
   "encoding": {"x": {"datum": 5705}, "y": {"datum": 0.02}, "text": {"field": "hr"}}}
 ]},
{"width": 285, "height": 159, "title": {"text": "c"},
 "layer": [
  {"data": {"name": "km"}, "transform": [{"filter": "datum.p == 'c'"}],
   "mark": {"type": "line", "interpolate": "step-after", "strokeWidth": 1},
   "encoding": {
    "x": {"field": "t", "type": "quantitative", "scale": {"domain": [0, 5080], "nice": false, "zero": false}, "axis": {"title": "Recurrence free survival (days)", "values": [0,1000,2000,3000,4000,5000], "tickCount": 20, "format": "d", "labelOverlap": false}},
    "y": {"field": "s", "type": "quantitative", "scale": {"domain": [-0.04, 1.04], "nice": false, "zero": false}, "axis": {"title": "survival proportion", "values": [0,0.2,0.4,0.6,0.8,1], "tickCount": 20, "format": ".1f", "labelOverlap": false}},
    "color": {"field": "g", "type": "nominal", "scale": {"domain": ["CD4 Intra < 24", "CD4 Intra > 24"], "range": ["#444444", "#9a9a9a"]}, "legend": {"legendX": 6.4, "legendY": 130}}}},
  {"data": {"name": "km"}, "transform": [{"filter": "datum.p == 'c' && datum.c == 1"}],
   "mark": {"type": "point", "shape": "M-0.6,0H0.6M0,-1V1", "filled": false, "size": 30, "strokeWidth": 1, "opacity": 1},
   "encoding": {"x": {"field": "t", "type": "quantitative"}, "y": {"field": "s", "type": "quantitative"}, "color": {"field": "g", "type": "nominal", "legend": null}}},
  {"data": {"name": "hr"}, "transform": [{"filter": "datum.p == 'c'"}],
   "mark": {"type": "text", "align": "right", "baseline": "alphabetic", "fontSize": 7, "font": "Liberation Sans", "color": "#222"},
   "encoding": {"x": {"datum": 5005}, "y": {"datum": 0.02}, "text": {"field": "hr"}}}
 ]},
{"width": 281, "height": 159, "title": {"text": "d"},
 "layer": [
  {"data": {"name": "km"}, "transform": [{"filter": "datum.p == 'd'"}],
   "mark": {"type": "line", "interpolate": "step-after", "strokeWidth": 1},
   "encoding": {
    "x": {"field": "t", "type": "quantitative", "scale": {"domain": [0, 5760], "nice": false, "zero": false}, "axis": {"title": "Overall Survival (days)", "values": [0,1000,2000,3000,4000,5000], "tickCount": 20, "format": "d", "labelOverlap": false}},
    "y": {"field": "s", "type": "quantitative", "scale": {"domain": [-0.04, 1.04], "nice": false, "zero": false}, "axis": {"title": "survival proportion", "values": [0,0.2,0.4,0.6,0.8,1], "tickCount": 20, "format": ".1f", "labelOverlap": false}},
    "color": {"field": "g", "type": "nominal", "scale": {"domain": ["CD4 Intra < 24", "CD4 Intra > 24"], "range": ["#444444", "#9a9a9a"]}, "legend": {"legendX": 6.4, "legendY": 130}}}},
  {"data": {"name": "km"}, "transform": [{"filter": "datum.p == 'd' && datum.c == 1"}],
   "mark": {"type": "point", "shape": "M-0.6,0H0.6M0,-1V1", "filled": false, "size": 30, "strokeWidth": 1, "opacity": 1},
   "encoding": {"x": {"field": "t", "type": "quantitative"}, "y": {"field": "s", "type": "quantitative"}, "color": {"field": "g", "type": "nominal", "legend": null}}},
  {"data": {"name": "hr"}, "transform": [{"filter": "datum.p == 'd'"}],
   "mark": {"type": "text", "align": "right", "baseline": "alphabetic", "fontSize": 7, "font": "Liberation Sans", "color": "#222"},
   "encoding": {"x": {"datum": 5705}, "y": {"datum": 0.02}, "text": {"field": "hr"}}}
 ]},
{"width": 285, "height": 159, "title": {"text": "e"},
 "layer": [
  {"data": {"name": "km"}, "transform": [{"filter": "datum.p == 'e'"}],
   "mark": {"type": "line", "interpolate": "step-after", "strokeWidth": 1},
   "encoding": {
    "x": {"field": "t", "type": "quantitative", "scale": {"domain": [0, 5080], "nice": false, "zero": false}, "axis": {"title": "Recurrence free survival (days)", "values": [0,1000,2000,3000,4000,5000], "tickCount": 20, "format": "d", "labelOverlap": false}},
    "y": {"field": "s", "type": "quantitative", "scale": {"domain": [-0.04, 1.04], "nice": false, "zero": false}, "axis": {"title": "survival proportion", "values": [0,0.2,0.4,0.6,0.8,1], "tickCount": 20, "format": ".1f", "labelOverlap": false}},
    "color": {"field": "g", "type": "nominal", "scale": {"domain": ["CD8 Intra < 29", "CD8 Intra > 29"], "range": ["#9a9a9a", "#444444"]}, "legend": {"legendX": 6.4, "legendY": 130}}}},
  {"data": {"name": "km"}, "transform": [{"filter": "datum.p == 'e' && datum.c == 1"}],
   "mark": {"type": "point", "shape": "M-0.6,0H0.6M0,-1V1", "filled": false, "size": 30, "strokeWidth": 1, "opacity": 1},
   "encoding": {"x": {"field": "t", "type": "quantitative"}, "y": {"field": "s", "type": "quantitative"}, "color": {"field": "g", "type": "nominal", "legend": null}}},
  {"data": {"name": "hr"}, "transform": [{"filter": "datum.p == 'e'"}],
   "mark": {"type": "text", "align": "right", "baseline": "alphabetic", "fontSize": 7, "font": "Liberation Sans", "color": "#222"},
   "encoding": {"x": {"datum": 5005}, "y": {"datum": 0.02}, "text": {"field": "hr"}}}
 ]},
{"width": 281, "height": 159, "title": {"text": "f"},
 "layer": [
  {"data": {"name": "km"}, "transform": [{"filter": "datum.p == 'f'"}],
   "mark": {"type": "line", "interpolate": "step-after", "strokeWidth": 1},
   "encoding": {
    "x": {"field": "t", "type": "quantitative", "scale": {"domain": [0, 5760], "nice": false, "zero": false}, "axis": {"title": "Overall Survival (days)", "values": [0,1000,2000,3000,4000,5000], "tickCount": 20, "format": "d", "labelOverlap": false}},
    "y": {"field": "s", "type": "quantitative", "scale": {"domain": [-0.04, 1.04], "nice": false, "zero": false}, "axis": {"title": "survival proportion", "values": [0,0.2,0.4,0.6,0.8,1], "tickCount": 20, "format": ".1f", "labelOverlap": false}},
    "color": {"field": "g", "type": "nominal", "scale": {"domain": ["CD8 Intra < 29", "CD8 Intra > 29"], "range": ["#9a9a9a", "#444444"]}, "legend": {"legendX": 6.4, "legendY": 130}}}},
  {"data": {"name": "km"}, "transform": [{"filter": "datum.p == 'f' && datum.c == 1"}],
   "mark": {"type": "point", "shape": "M-0.6,0H0.6M0,-1V1", "filled": false, "size": 30, "strokeWidth": 1, "opacity": 1},
   "encoding": {"x": {"field": "t", "type": "quantitative"}, "y": {"field": "s", "type": "quantitative"}, "color": {"field": "g", "type": "nominal", "legend": null}}},
  {"data": {"name": "hr"}, "transform": [{"filter": "datum.p == 'f'"}],
   "mark": {"type": "text", "align": "right", "baseline": "alphabetic", "fontSize": 7, "font": "Liberation Sans", "color": "#222"},
   "encoding": {"x": {"datum": 5705}, "y": {"datum": 0.02}, "text": {"field": "hr"}}}
 ]},
{"width": 285, "height": 159, "title": {"text": "g"},
 "layer": [
  {"data": {"name": "km"}, "transform": [{"filter": "datum.p == 'g'"}],
   "mark": {"type": "line", "interpolate": "step-after", "strokeWidth": 1},
   "encoding": {
    "x": {"field": "t", "type": "quantitative", "scale": {"domain": [0, 5080], "nice": false, "zero": false}, "axis": {"title": "Recurrence free survival (days)", "values": [0,1000,2000,3000,4000,5000], "tickCount": 20, "format": "d", "labelOverlap": false}},
    "y": {"field": "s", "type": "quantitative", "scale": {"domain": [-0.04, 1.04], "nice": false, "zero": false}, "axis": {"title": "survival proportion", "values": [0,0.2,0.4,0.6,0.8,1], "tickCount": 20, "format": ".1f", "labelOverlap": false}},
    "color": {"field": "g", "type": "nominal", "scale": {"domain": ["PD-1 Peri < 1.5", "PD-1 Peri > 1.5"], "range": ["#9a9a9a", "#444444"]}, "legend": {"legendX": 6.4, "legendY": 130}}}},
  {"data": {"name": "km"}, "transform": [{"filter": "datum.p == 'g' && datum.c == 1"}],
   "mark": {"type": "point", "shape": "M-0.6,0H0.6M0,-1V1", "filled": false, "size": 30, "strokeWidth": 1, "opacity": 1},
   "encoding": {"x": {"field": "t", "type": "quantitative"}, "y": {"field": "s", "type": "quantitative"}, "color": {"field": "g", "type": "nominal", "legend": null}}},
  {"data": {"name": "hr"}, "transform": [{"filter": "datum.p == 'g'"}],
   "mark": {"type": "text", "align": "right", "baseline": "alphabetic", "fontSize": 7, "font": "Liberation Sans", "color": "#222"},
   "encoding": {"x": {"datum": 5005}, "y": {"datum": 0.02}, "text": {"field": "hr"}}}
 ]},
{"width": 281, "height": 159, "title": {"text": "h"},
 "layer": [
  {"data": {"name": "km"}, "transform": [{"filter": "datum.p == 'h'"}],
   "mark": {"type": "line", "interpolate": "step-after", "strokeWidth": 1},
   "encoding": {
    "x": {"field": "t", "type": "quantitative", "scale": {"domain": [0, 5760], "nice": false, "zero": false}, "axis": {"title": "Overall Survival (days)", "values": [0,1000,2000,3000,4000,5000], "tickCount": 20, "format": "d", "labelOverlap": false}},
    "y": {"field": "s", "type": "quantitative", "scale": {"domain": [-0.04, 1.04], "nice": false, "zero": false}, "axis": {"title": "survival proportion", "values": [0,0.2,0.4,0.6,0.8,1], "tickCount": 20, "format": ".1f", "labelOverlap": false}},
    "color": {"field": "g", "type": "nominal", "scale": {"domain": ["PD-1 Peri < 1.5", "PD-1 Peri > 1.5"], "range": ["#9a9a9a", "#444444"]}, "legend": {"legendX": 6.4, "legendY": 130}}}},
  {"data": {"name": "km"}, "transform": [{"filter": "datum.p == 'h' && datum.c == 1"}],
   "mark": {"type": "point", "shape": "M-0.6,0H0.6M0,-1V1", "filled": false, "size": 30, "strokeWidth": 1, "opacity": 1},
   "encoding": {"x": {"field": "t", "type": "quantitative"}, "y": {"field": "s", "type": "quantitative"}, "color": {"field": "g", "type": "nominal", "legend": null}}},
  {"data": {"name": "hr"}, "transform": [{"filter": "datum.p == 'h'"}],
   "mark": {"type": "text", "align": "right", "baseline": "alphabetic", "fontSize": 7, "font": "Liberation Sans", "color": "#222"},
   "encoding": {"x": {"datum": 5705}, "y": {"datum": 0.02}, "text": {"field": "hr"}}}
 ]}
]
}
